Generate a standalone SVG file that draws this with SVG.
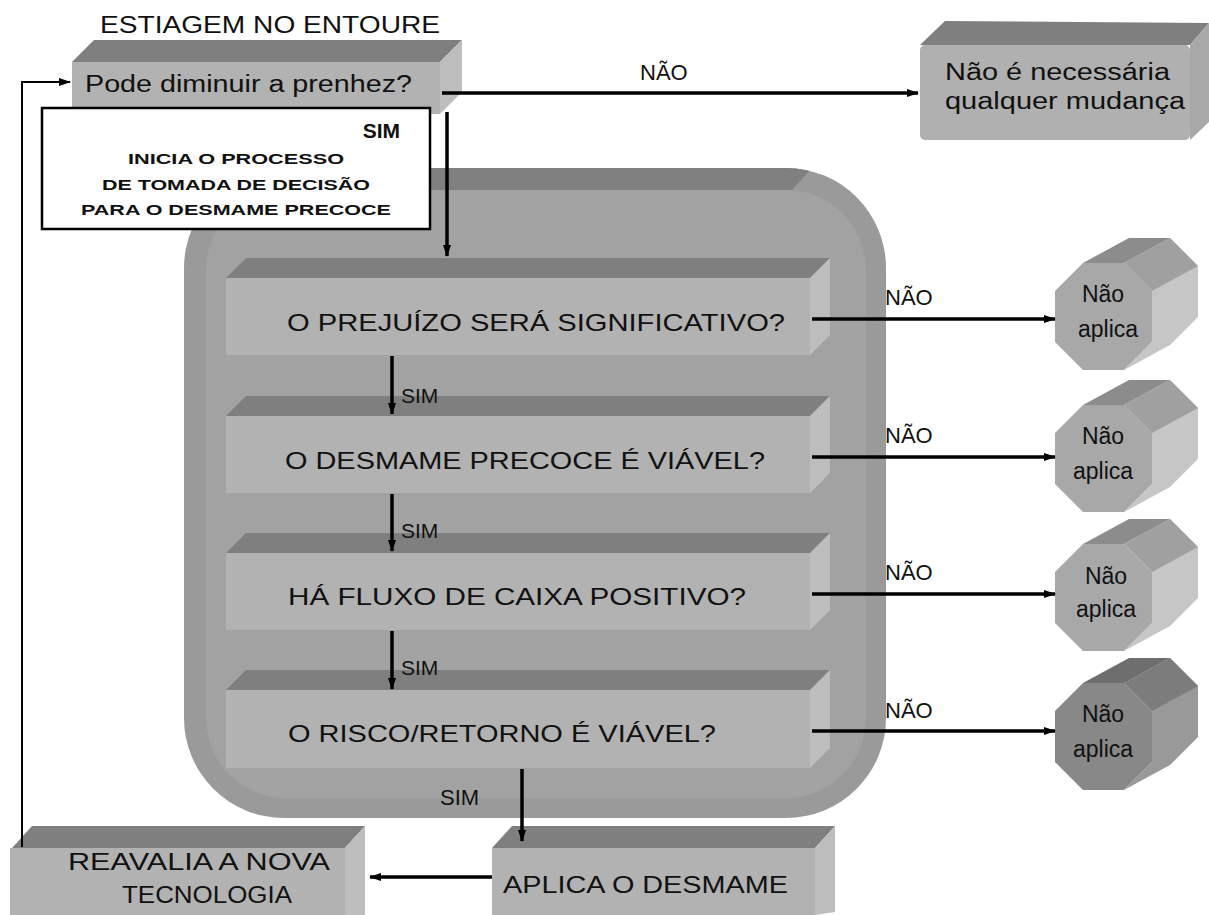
<svg xmlns="http://www.w3.org/2000/svg" width="1209" height="915" viewBox="0 0 1209 915">
<defs>
<style>
.t{font-family:"Liberation Sans",Arial,sans-serif;fill:#111;}
.b{font-family:"Liberation Sans",Arial,sans-serif;font-weight:bold;fill:#111;}
.front{fill:#b2b2b2;}
.top{fill:#7f7f7f;}
.side{fill:#bdbdbd;}
.ln{stroke:#000;stroke-width:3.5;fill:none;}
.ln2{stroke:#000;stroke-width:2;fill:none;}
</style>
<marker id="ah" viewBox="0 0 12 8" refX="11" refY="4" markerWidth="12" markerHeight="8" markerUnits="userSpaceOnUse" orient="auto">
<path d="M0,0 L12,4 L0,8 z" fill="#000"/>
</marker>
<marker id="ah2" viewBox="0 0 12 8" refX="11" refY="4" markerWidth="12" markerHeight="8" markerUnits="userSpaceOnUse" orient="auto">
<path d="M0,0 L12,4 L0,8 z" fill="#000"/>
</marker>
<clipPath id="cc"><rect x="184" y="168" width="702" height="650" rx="100" ry="100"/></clipPath>
</defs>
<rect width="1209" height="915" fill="#fff"/>

<g id="container">
<rect x="184" y="168" width="702" height="650" rx="100" ry="100" fill="#9a9a9a"/>
<rect x="206" y="190" width="660" height="608" rx="80" ry="80" fill="#a2a2a2"/>
<path d="M184,168 L812,168 L792,190 L184,190 z" fill="#808080" clip-path="url(#cc)"/>
</g>

<g id="title"><text class="t" x="100" y="33" font-size="23" textLength="340" lengthAdjust="spacingAndGlyphs">ESTIAGEM NO ENTOURE</text></g>

<g id="n_pode">
<polygon class="top" points="72,62 440,62 462,40 94,40"/>
<polygon class="side" points="440,62 462,40 462,92 440,114"/>
<rect class="front" x="72" y="62" width="368" height="52" fill="#aaaaaa"/>
<text class="t" x="85" y="92" font-size="23" textLength="327" lengthAdjust="spacingAndGlyphs">Pode diminuir a prenhez?</text>
</g>

<g id="n_sim_box">
<rect x="42" y="108" width="388" height="121" fill="#fff" stroke="#000" stroke-width="2.5"/>
<text class="b" x="400" y="138" font-size="21" text-anchor="end">SIM</text>
<text class="b" x="236" y="164" font-size="15" text-anchor="middle" textLength="216" lengthAdjust="spacingAndGlyphs">INICIA O PROCESSO</text>
<text class="b" x="236" y="190" font-size="15" text-anchor="middle" textLength="268" lengthAdjust="spacingAndGlyphs">DE TOMADA DE DECISÃO</text>
<text class="b" x="236" y="215" font-size="15" text-anchor="middle" textLength="310" lengthAdjust="spacingAndGlyphs">PARA O DESMAME PRECOCE</text>
</g>

<g id="n_nao_mudanca">
<polygon class="top" points="920,45 1190,45 1209,23 945,21"/>
<polygon fill="#a8a8a8" points="1190,45 1209,23 1209,122 1190,140"/>
<rect x="920" y="45" width="270" height="95" rx="5" fill="#b0b0b0"/>
<text class="t" x="945" y="80" font-size="23" textLength="225" lengthAdjust="spacingAndGlyphs">Não é necessária</text>
<text class="t" x="945" y="109" font-size="23" textLength="240" lengthAdjust="spacingAndGlyphs">qualquer mudança</text>
</g>

<g id="d1">
<polygon class="top" points="226,278 810,278 830,258 246,258"/>
<polygon class="side" points="810,278 830,258 830,335 810,355"/>
<rect class="front" x="226" y="278" width="584" height="77"/>
<text class="t" x="287" y="331" font-size="24" textLength="498" lengthAdjust="spacingAndGlyphs">O PREJUÍZO SERÁ SIGNIFICATIVO?</text>
</g>
<g id="d2">
<polygon class="top" points="226,416 810,416 830,396 246,396"/>
<polygon class="side" points="810,416 830,396 830,473 810,493"/>
<rect class="front" x="226" y="416" width="584" height="77"/>
<text class="t" x="285" y="469" font-size="24" textLength="480" lengthAdjust="spacingAndGlyphs">O DESMAME PRECOCE É VIÁVEL?</text>
</g>
<g id="d3">
<polygon class="top" points="226,553 810,553 830,533 246,533"/>
<polygon class="side" points="810,553 830,533 830,610 810,630"/>
<rect class="front" x="226" y="553" width="584" height="77"/>
<text class="t" x="288" y="605" font-size="24" textLength="458" lengthAdjust="spacingAndGlyphs">HÁ FLUXO DE CAIXA  POSITIVO?</text>
</g>
<g id="d4">
<polygon class="top" points="226,690 810,690 830,670 246,670"/>
<polygon class="side" points="810,690 830,670 830,748 810,768"/>
<rect class="front" x="226" y="690" width="584" height="78"/>
<text class="t" x="288" y="742" font-size="24" textLength="428" lengthAdjust="spacingAndGlyphs">O RISCO/RETORNO É VIÁVEL?</text>
</g>

<g id="o1">
<polygon fill="#c6c6c6" points="1124,263 1170,238 1198,266 1198,317 1170,345 1124,370 1152,342 1152,291"/>
<polygon fill="#8c8c8c" points="1083,263 1124,263 1170,238 1129,238"/>
<polygon fill="#a0a0a0" points="1124,263 1152,291 1198,266 1170,238"/>
<polygon fill="#a8a8a8" points="1083,263 1124,263 1152,291 1152,342 1124,370 1083,370 1055,342 1055,291"/>
<text class="t" x="1103" y="302" font-size="23" text-anchor="middle">Não</text>
<text class="t" x="1108" y="337" font-size="23" text-anchor="middle">aplica</text>
</g>
<g id="o2">
<polygon fill="#c6c6c6" points="1124,405 1170,380 1198,408 1198,459 1170,487 1124,512 1152,484 1152,433"/>
<polygon fill="#8c8c8c" points="1083,405 1124,405 1170,380 1129,380"/>
<polygon fill="#a0a0a0" points="1124,405 1152,433 1198,408 1170,380"/>
<polygon fill="#a8a8a8" points="1083,405 1124,405 1152,433 1152,484 1124,512 1083,512 1055,484 1055,433"/>
<text class="t" x="1103" y="444" font-size="23" text-anchor="middle">Não</text>
<text class="t" x="1103" y="479" font-size="23" text-anchor="middle">aplica</text>
</g>
<g id="o3">
<polygon fill="#c6c6c6" points="1124,544 1170,519 1198,547 1198,598 1170,626 1124,651 1152,623 1152,572"/>
<polygon fill="#8c8c8c" points="1083,544 1124,544 1170,519 1129,519"/>
<polygon fill="#a0a0a0" points="1124,544 1152,572 1198,547 1170,519"/>
<polygon fill="#a8a8a8" points="1083,544 1124,544 1152,572 1152,623 1124,651 1083,651 1055,623 1055,572"/>
<text class="t" x="1106" y="584" font-size="23" text-anchor="middle">Não</text>
<text class="t" x="1106" y="617" font-size="23" text-anchor="middle">aplica</text>
</g>
<g id="o4">
<polygon fill="#999999" points="1124,683 1170,658 1198,686 1198,737 1170,765 1124,790 1152,762 1152,711"/>
<polygon fill="#6e6e6e" points="1083,683 1124,683 1170,658 1129,658"/>
<polygon fill="#7c7c7c" points="1124,683 1152,711 1198,686 1170,658"/>
<polygon fill="#888888" points="1083,683 1124,683 1152,711 1152,762 1124,790 1083,790 1055,762 1055,711"/>
<text class="t" x="1103" y="722" font-size="23" text-anchor="middle">Não</text>
<text class="t" x="1103" y="757" font-size="23" text-anchor="middle">aplica</text>
</g>

<g id="n_reavalia">
<polygon class="top" points="12,848 345,848 365,826 32,826"/>
<polygon class="side" points="345,848 365,826 365,915 345,915"/>
<rect class="front" x="10" y="848" width="335" height="67"/>
<text class="t" x="199" y="870" font-size="23" text-anchor="middle" textLength="262" lengthAdjust="spacingAndGlyphs">REAVALIA A NOVA</text>
<text class="t" x="207" y="903" font-size="23" text-anchor="middle" textLength="170" lengthAdjust="spacingAndGlyphs">TECNOLOGIA</text>
</g>
<g id="n_aplica">
<polygon class="top" points="492,848 815,848 835,826 512,826"/>
<polygon class="side" points="815,848 835,826 835,912 815,915"/>
<rect class="front" x="492" y="848" width="323" height="67"/>
<text class="t" x="503" y="893" font-size="23" textLength="285" lengthAdjust="spacingAndGlyphs">APLICA O DESMAME</text>
</g>

<g id="connectors">
<path class="ln2" d="M22,847 L22,82 L70,82" marker-end="url(#ah2)"/>
<path class="ln" d="M442,93 L918,93" marker-end="url(#ah)"/>
<path class="ln" d="M447,112 L447,256" marker-end="url(#ah)"/>
<path class="ln" d="M812,319 L1055,319" marker-end="url(#ah)"/>
<path class="ln" d="M812,457 L1055,457" marker-end="url(#ah)"/>
<path class="ln" d="M812,594 L1055,594" marker-end="url(#ah)"/>
<path class="ln" d="M812,731 L1055,731" marker-end="url(#ah)"/>
<path class="ln" d="M392,356 L392,414" marker-end="url(#ah)"/>
<path class="ln" d="M392,494 L392,551" marker-end="url(#ah)"/>
<path class="ln" d="M392,631 L392,689" marker-end="url(#ah)"/>
<path class="ln" d="M522,769 L522,841" marker-end="url(#ah)"/>
<path class="ln" d="M492,877 L370,877" marker-end="url(#ah)"/>
</g>

<g id="labels">
<text class="t" x="640" y="80" font-size="22">NÃO</text>
<text class="t" x="885" y="305" font-size="22">NÃO</text>
<text class="t" x="885" y="443" font-size="22">NÃO</text>
<text class="t" x="885" y="580" font-size="22">NÃO</text>
<text class="t" x="885" y="718" font-size="22">NÃO</text>
<text class="t" x="401" y="403" font-size="21">SIM</text>
<text class="t" x="401" y="538" font-size="21">SIM</text>
<text class="t" x="401" y="675" font-size="21">SIM</text>
<text class="t" x="440" y="805" font-size="22">SIM</text>
</g>
</svg>
